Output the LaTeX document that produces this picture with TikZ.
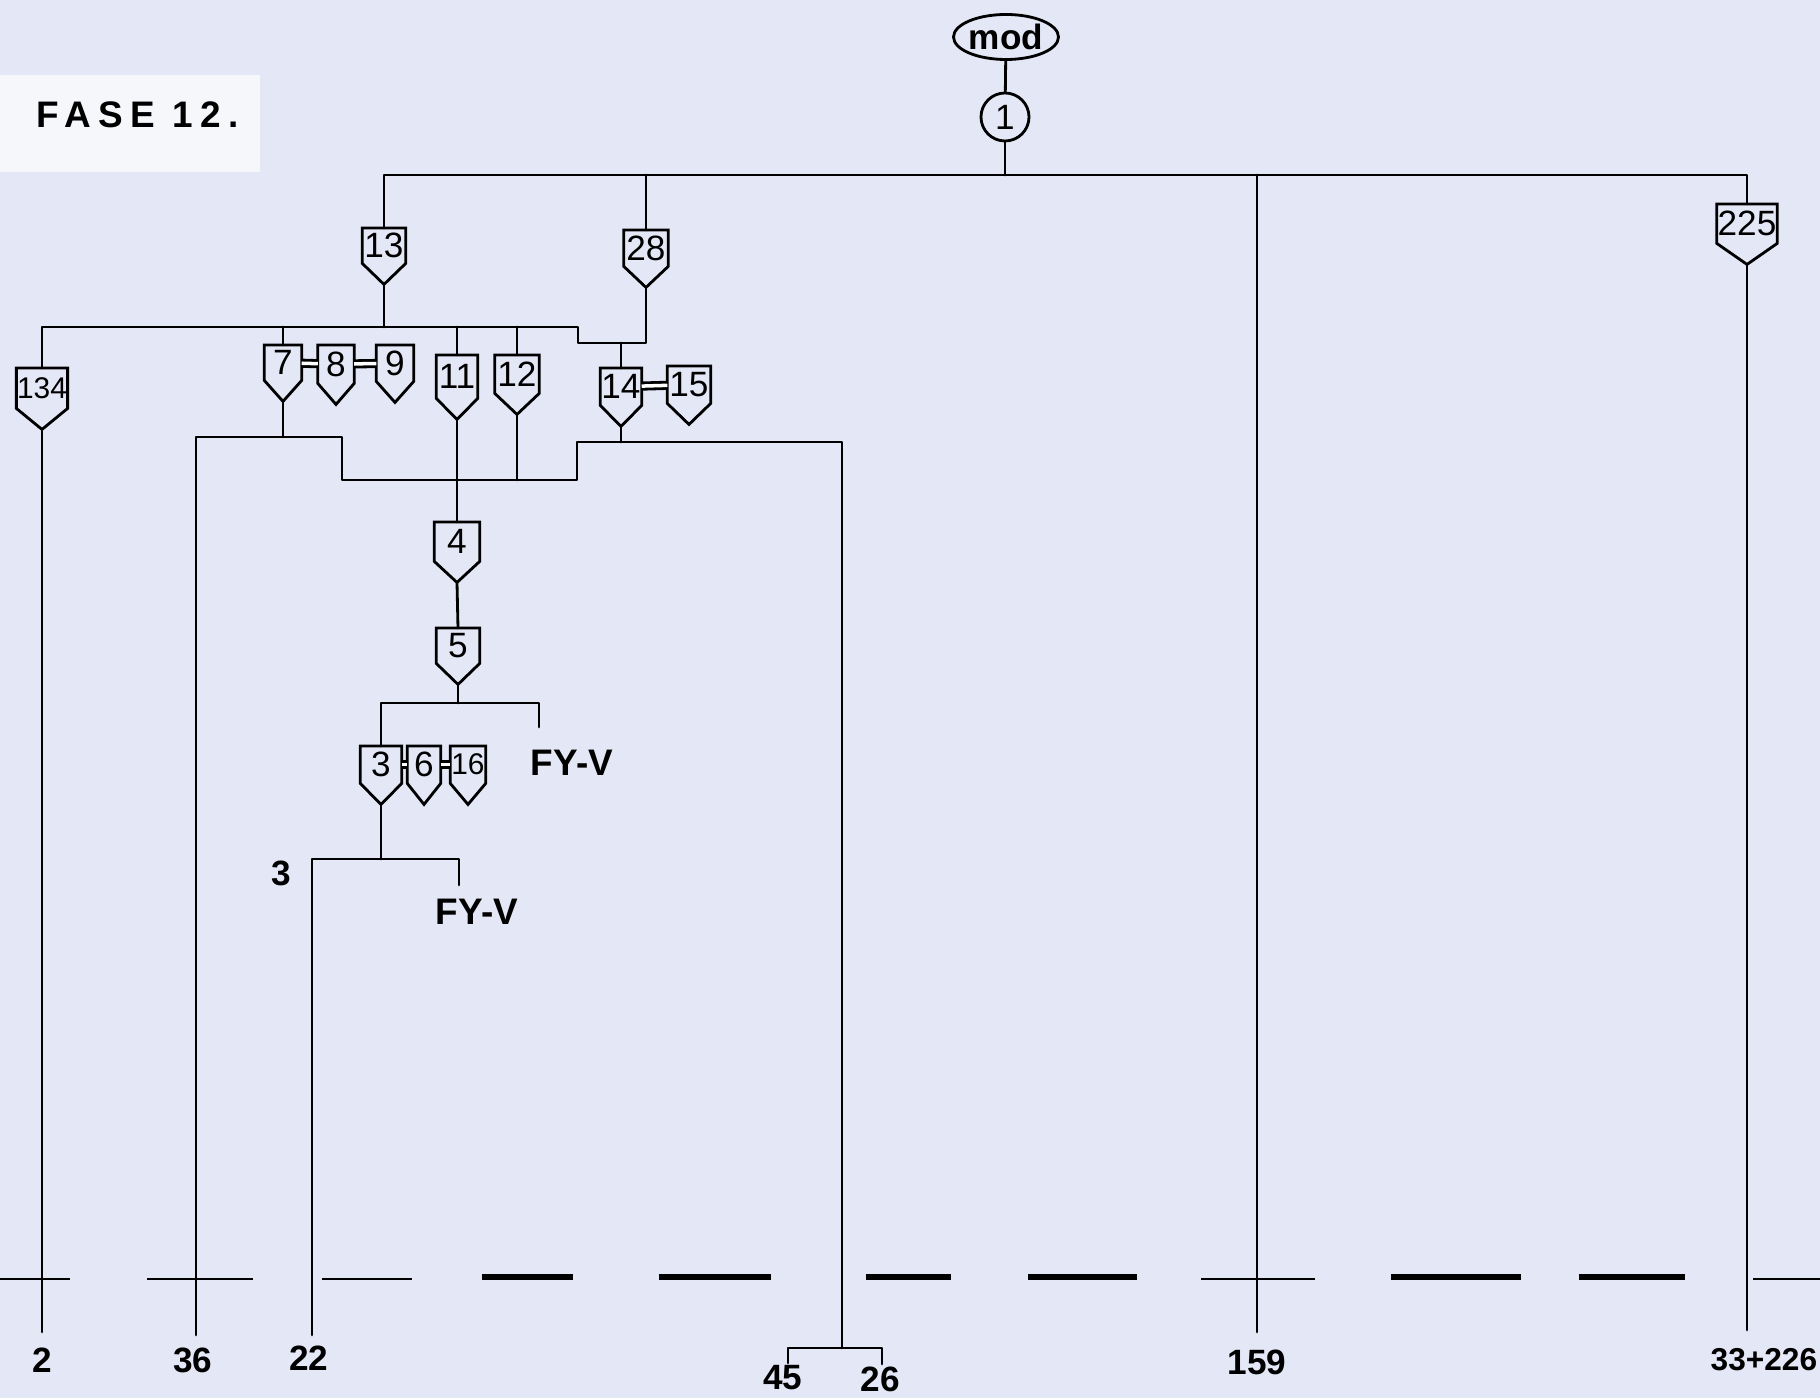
\documentclass[tikz,border=0pt]{standalone}
\usepackage{fontspec}
\setmainfont{Liberation Sans}
\newfontfamily\boldlab{Liberation Sans Bold}
\newfontfamily\titlefont[LetterSpace=20]{Liberation Sans Bold}
\usetikzlibrary{shapes.geometric,calc}
\definecolor{paper}{RGB}{228,232,246}
\definecolor{labelwhite}{RGB}{246,247,251}
\begin{document}
\begin{tikzpicture}[x=0.01cm,y=-0.01cm,
  ln/.style={line width=0.8pt,line cap=round,line join=round},
  thindash/.style={line width=0.6pt},
  thickdash/.style={line width=1.5pt},
  dbl/.style={line width=0.8pt,double,double distance=1.0pt},
  pent/.style={shape=rectangle,inner sep=0pt,minimum width=#1,minimum height=0.36cm,anchor=north,font=\fontsize{10}{12}\selectfont},
  pent/.default=0.40cm,
  narrowdigits/.style={font=\fontsize{8.5}{10}\selectfont},
  blab/.style={font=\boldlab\fontsize{10}{12}\selectfont,inner sep=0pt}]
\useasboundingbox (0,0) rectangle (1820,1398);
\clip (0,0) rectangle (1820,1398);
\fill[paper] (0,0) rectangle (1820,1398);

% title
\fill[labelwhite] (0,75) rectangle (260,172);
\node[anchor=base west,inner sep=0pt,font=\titlefont\fontsize{10.5}{12}\selectfont] (title) at (36,128) {FASE 12.};

% top
\node[ellipse,draw,line width=0.8pt,minimum width=0.91cm,minimum height=0.45cm,inner sep=0pt,font=\boldlab\fontsize{10}{12}\selectfont] (mod) at (1006,37) {mod};
\node[circle,draw,line width=0.8pt,minimum size=0.48cm,inner sep=0pt,font=\fontsize{10}{12}\selectfont] (c1) at (1005,117) {1};

% boxes
\node[pent=0.42cm,minimum height=0.34cm] (b13) at (384,228) {13};
\node[pent=0.43cm,minimum height=0.35cm] (b28) at (646,230) {28};
\node[pent=0.59cm,minimum height=0.38cm] (b225) at (1747,204) {225};
\node[pent=0.47cm,minimum height=0.39cm,narrowdigits] (b134) at (42,368) {134};
\node[pent=0.36cm,minimum height=0.34cm] (b7) at (283,345) {7};
\node[pent=0.35cm,minimum height=0.37cm] (b8) at (336,345) {8};
\node[pent=0.36cm,minimum height=0.35cm] (b9) at (395,345) {9};
\node[pent=0.40cm,minimum height=0.42cm] (b11) at (457,355) {11};
\node[pent=0.43cm,minimum height=0.37cm] (b12) at (517,355) {12};
\node[pent=0.40cm,minimum height=0.36cm] (b14) at (621,368) {14};
\node[pent=0.42cm,minimum height=0.36cm] (b15) at (689,366) {15};
\node[pent=0.44cm,minimum height=0.38cm] (b4) at (457,522) {4};
\node[pent=0.42cm,minimum height=0.34cm] (b5) at (458,628) {5};
\node[pent=0.40cm,minimum height=0.36cm] (b3) at (381,746) {3};
\node[pent=0.32cm,minimum height=0.36cm] (b6) at (424,746) {6};
\node[pent=0.34cm,minimum height=0.36cm,narrowdigits] (b16) at (468,746) {16};

\foreach \n in {b13,b28,b225,b134,b7,b8,b9,b11,b12,b14,b15,b4,b5,b3,b6,b16}{
  \draw[ln,line join=miter] (\n.north west) -- (\n.north east) -- (\n.south east) -- ([yshift=-0.21cm]\n.south) -- (\n.south west) -- cycle;
  \coordinate (\n-t) at ([yshift=-0.21cm]\n.south);
}

% helper coordinates
\coordinate (bus) at (1005,175);
\coordinate (y327) at (0,327);
\coordinate (y343) at (0,343);
\coordinate (y437) at (0,437);
\coordinate (y442) at (0,442);
\coordinate (y480) at (0,480);
\coordinate (y703) at (0,703);
\coordinate (y859) at (0,859);
\coordinate (e2) at (42,1332);
\coordinate (e36) at (196,1335);
\coordinate (e22) at (312,1335);
\coordinate (e159) at (1257,1332);
\coordinate (e225) at (1747,1330);
\coordinate (k) at (842,1348);

% top connections
\draw[ln] (mod) -- (c1);
\draw[ln] (c1) -- (bus);
\draw[ln] (b13.north) |- (bus);
\draw[ln] (bus) -| (b225.north);
\draw[ln] (b28.north) -- (b28.north |- bus);
\draw[ln] (e159) -- (e159 |- bus);
\draw[ln] (b225-t) -- (e225);

% level 2
\draw[ln] (b13-t) -- (b13-t |- y327);
\draw[ln] (b134.north) |- (578,327) -- (578,343) -| (b28-t);
\draw[ln] (b7.north) -- (b7.north |- y327);
\draw[ln] (b11.north) -- (b11.north |- y327);
\draw[ln] (b12.north) -- (b12.north |- y327);
\draw[ln] (b14.north) -- (b14.north |- y343);
\draw[dbl] (b7) -- (b8);
\draw[dbl] (b8) -- (b9);
\draw[dbl] (b14) -- (b15);
\draw[ln] (b134-t) -- (e2);

% lower network
\draw[ln] (e36) |- (342,437) -- (342,480) -- (577,480) -- (577,442) -| (k);
\draw[ln] (b7-t) -- (b7-t |- y437);
\draw[ln] (b11-t) -- (b4.north);
\draw[ln] (b12-t) -- (b12-t |- y480);
\draw[ln] (b14-t) -- (b14-t |- y442);
\draw[ln] (b4-t) -- (b5.north);
\draw[ln] (b5-t) -- (b5-t |- y703);
\draw[ln] (b3.north) |- (539,703) -- (539,727);
\draw[dbl] (b3) -- (b6);
\draw[dbl] (b6) -- (b16);
\node[blab,font=\boldlab\fontsize{10.5}{12}\selectfont] (fy1) at (572,763) {FY-V};
\draw[ln] (b3-t) -- (b3-t |- y859);
\draw[ln] (e22) |- (459,859) -- (459,885);
\node[blab] (q3) at (281,873) {3};
\node[blab,font=\boldlab\fontsize{10.5}{12}\selectfont] (fy2) at (477,912) {FY-V};

% bottom bracket
\draw[ln] (788,1363) -- (788,1348) -- (882,1348) -- (882,1364);

% bottom dashed line
\foreach \a/\b in {0/70,147/253,322/412,1201/1315,1753/1820}
  \draw[thindash] (\a,1279) -- (\b,1279);
\foreach \a/\b in {482/573,659/771,866/951,1028/1137,1391/1521,1579/1685}
  \draw[thickdash] (\a,1277) -- (\b,1277);

% bottom labels
\node[blab] (l2) at (42,1360) {2};
\node[blab] (l36) at (193,1360) {36};
\node[blab] (l22) at (309,1358) {22};
\node[blab] (l45) at (783,1378) {45};
\node[blab] (l26) at (880,1379) {26};
\node[blab] (l159) at (1257,1362) {159};
\node[blab,anchor=west,font=\boldlab\fontsize{9}{11}\selectfont] (l3326) at (1710,1360) {33+226};
\end{tikzpicture}
\end{document}
